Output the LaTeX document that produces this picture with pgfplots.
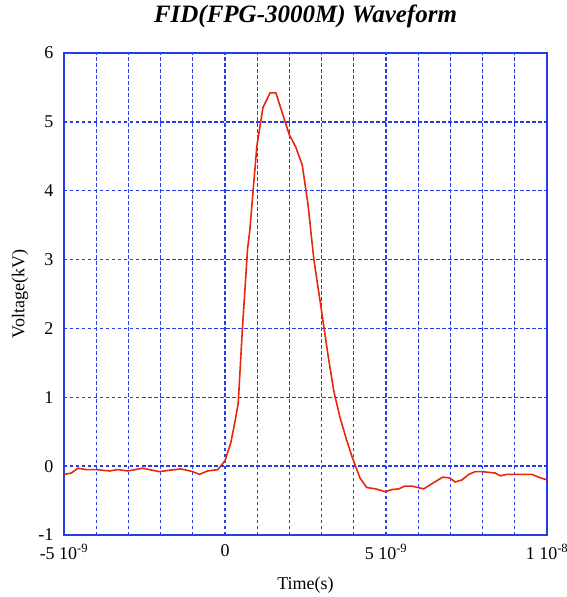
\documentclass[border=0pt]{standalone}
\usepackage{fontspec}
\setmainfont{Liberation Serif}
\usepackage{pgfplots}
\pgfplotsset{compat=1.18}
\definecolor{gridblue}{RGB}{40,60,235}
\definecolor{curvered}{RGB}{232,40,10}

\begin{document}
\begin{tikzpicture}
\begin{axis}[
    scale only axis,
    width=483pt,
    height=482pt,
    xmin=-5e-9, xmax=1e-8,
    ymin=-1, ymax=6,
    xtick={-5e-9,-4e-9,-3e-9,-2e-9,-1e-9,0,1e-9,2e-9,3e-9,4e-9,5e-9,6e-9,7e-9,8e-9,9e-9,1e-8},
    xticklabels={{-5 10\textsuperscript{-9}},,,,,0,,,,,{5 10\textsuperscript{-9}},,,,,{1 10\textsuperscript{-8}}},
    ytick={-1,0,...,6},
    scaled x ticks=false,
    /pgf/number format/assume math mode=true,
    tick label style={font=\fontsize{18}{20}\selectfont},
    yticklabel style={xshift=-7pt},
    xticklabel style={yshift=-6pt},
    major tick length=0pt,
    grid=major,
    major grid style={gridblue, line width=1.3pt, dash pattern=on 3.5pt off 2.5pt},
    axis line style={gridblue, line width=1.8pt},
    title={\fontsize{25}{28}\selectfont\bfseries\itshape FID(FPG-3000M) Waveform},
    title style={at={(axis description cs:0.5,1.064)}, anchor=center},
    xlabel={Time(s)},
    ylabel={Voltage(kV)},
    label style={font=\fontsize{18}{20}\selectfont},
    xlabel style={at={(axis description cs:0.5,-0.104)}, anchor=center},
    ylabel style={at={(axis description cs:-0.091,0.5)}, anchor=center},
]
\addplot[curvered, line width=1.6pt] coordinates {
    (-5.00e-9,-0.12) (-4.77e-9,-0.10) (-4.57e-9,-0.03) (-4.31e-9,-0.05)
    (-4.00e-9,-0.05) (-3.59e-9,-0.07) (-3.33e-9,-0.05) (-3.02e-9,-0.07)
    (-2.56e-9,-0.03) (-2.04e-9,-0.08) (-1.73e-9,-0.06) (-1.37e-9,-0.04)
    (-1.00e-9,-0.08) (-0.80e-9,-0.12) (-0.54e-9,-0.07) (-0.22e-9,-0.05)
    (0.00e-9,0.08) (0.18e-9,0.34) (0.30e-9,0.62) (0.41e-9,0.91)
    (0.54e-9,1.99) (0.70e-9,3.15) (0.77e-9,3.42) (0.99e-9,4.65)
    (1.18e-9,5.21) (1.40e-9,5.42) (1.58e-9,5.42) (1.78e-9,5.13)
    (1.99e-9,4.82) (2.20e-9,4.63) (2.40e-9,4.37) (2.58e-9,3.79)
    (2.76e-9,3.00) (3.00e-9,2.25) (3.20e-9,1.61) (3.38e-9,1.09)
    (3.57e-9,0.71) (3.77e-9,0.39) (3.95e-9,0.13) (4.19e-9,-0.17)
    (4.40e-9,-0.31) (4.68e-9,-0.33) (4.96e-9,-0.37) (5.19e-9,-0.34)
    (5.40e-9,-0.33) (5.58e-9,-0.29) (5.81e-9,-0.29) (6.17e-9,-0.33)
    (6.48e-9,-0.24) (6.76e-9,-0.16) (6.97e-9,-0.17) (7.15e-9,-0.23)
    (7.36e-9,-0.20) (7.57e-9,-0.12) (7.77e-9,-0.08) (7.98e-9,-0.08)
    (8.19e-9,-0.09) (8.39e-9,-0.10) (8.55e-9,-0.14) (8.75e-9,-0.12)
    (9.01e-9,-0.12) (9.27e-9,-0.12) (9.53e-9,-0.12) (9.74e-9,-0.16)
    (10.00e-9,-0.20)
};
\end{axis}
\pgfresetboundingbox
\path[use as bounding box] (current axis.south west) ++(-64pt,-62pt) rectangle ([xshift=20pt,yshift=53pt]current axis.north east);
\end{tikzpicture}
\end{document}
